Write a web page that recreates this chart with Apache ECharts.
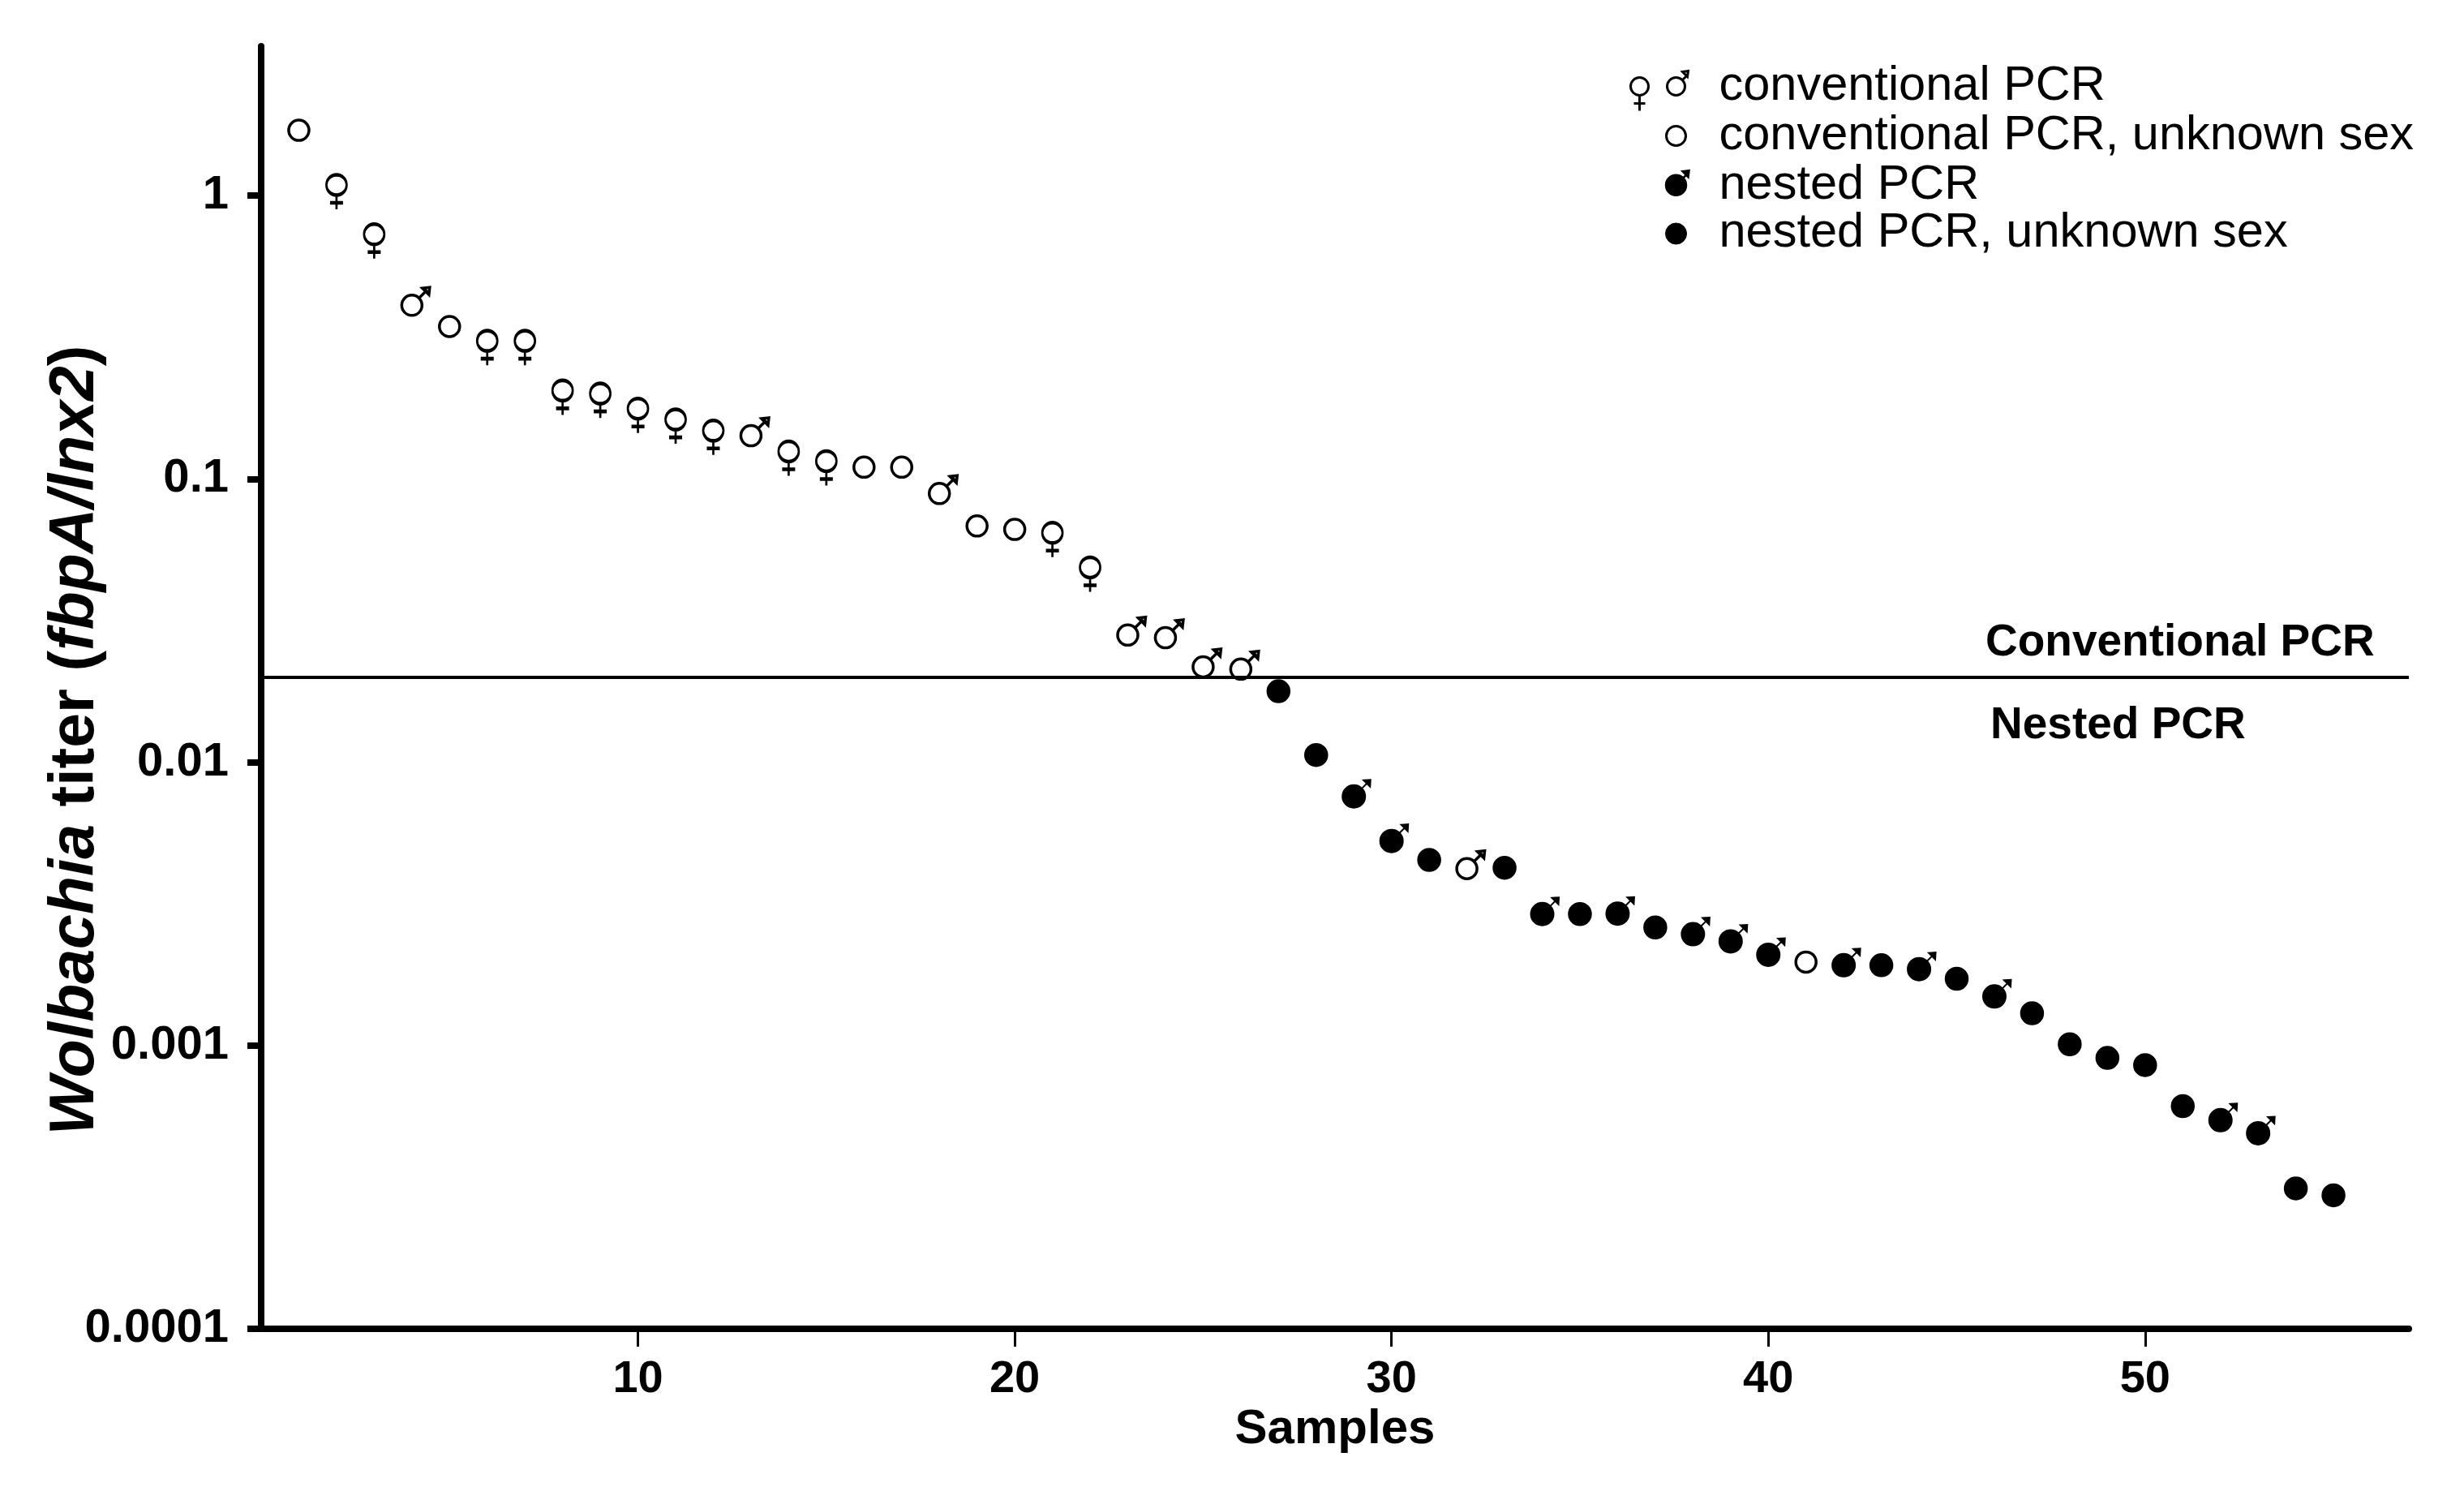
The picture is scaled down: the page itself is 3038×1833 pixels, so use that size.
<!DOCTYPE html>
<html>
<head>
<meta charset="utf-8">
<script src="https://cdn.jsdelivr.net/npm/echarts@6.0.0/dist/echarts.min.js"></script>
<style>
  html, body { margin: 0; padding: 0; background: #fff; }
  #main { width: 3038px; height: 1833px; }
</style>
</head>
<body>
<div id="main"></div>
<script>
  // samples, ranked by titer
  var samples = [1, 2, 3, 4, 5, 6, 7, 8, 9, 10, 11, 12, 13, 14, 15, 16, 17, 18, 19, 20,
                 21, 22, 23, 24, 25, 26, 27, 28, 29, 30, 31, 32, 33, 34, 35, 36, 37, 38, 39, 40,
                 41, 42, 43, 44, 45, 46, 47, 48, 49, 50, 51, 52, 53, 54, 55];
  // Wolbachia titer (fbpA/lnx2)
  var titer = [1.70, 1.09, 0.73, 0.41, 0.345, 0.307, 0.307, 0.205, 0.200, 0.177,
               0.162, 0.148, 0.142, 0.125, 0.1155, 0.110, 0.110, 0.0888, 0.0682, 0.0663,
               0.0645, 0.0487, 0.0281, 0.0275, 0.0217, 0.0213, 0.0178, 0.0106, 0.00757, 0.00527,
               0.00452, 0.00421, 0.00424, 0.00291, 0.00291, 0.00292, 0.00261, 0.00247, 0.00233, 0.00209,
               0.00197, 0.00192, 0.00192, 0.00186, 0.00172, 0.00149, 0.00130, 0.00101, 0.000904, 0.000853,
               0.000611, 0.000545, 0.000490, 0.000313, 0.000296];
  // C = conventional PCR, N = nested PCR
  var method = ['C','C','C','C','C','C','C','C','C','C','C','C','C','C','C','C','C','C','C','C',
                'C','C','C','C','C','C','N','N','N','N','N','C','N','N','N','N','N','N','N','N',
                'C','N','N','N','N','N','N','N','N','N','N','N','N','N','N'];
  // F = female, M = male, U = unknown
  var sex = ['U','F','F','M','U','F','F','F','F','F','F','F','M','F','F','U','U','M','U','U',
             'F','F','M','M','M','M','U','U','M','M','U','M','U','M','U','M','U','M','M','M',
             'U','M','U','M','U','M','U','U','U','U','U','M','M','U','U'];

  var cutoff = 0.0193;
  var zoneLabels = ['Conventional PCR', 'Nested PCR'];
  var yTicks = [0.0001, 0.001, 0.01, 0.1, 1];
  var yTickLabels = ['0.0001', '0.001', '0.01', '0.1', '1'];
  var xTicks = [10, 20, 30, 40, 50];
  var legendNames = ['conventional PCR', 'conventional PCR, unknown sex', 'nested PCR', 'nested PCR, unknown sex'];

  var FONT = 'Arial, "Liberation Sans", Helvetica, sans-serif';

  // symbol outlines (px units, circle centred on 0,0)
  var FEMALE = 'path://M-12.5 0A12.5 12.5 0 1 1 12.5 0A12.5 12.5 0 1 1 -12.5 0Z M0 12.5L0 30 M-8 22L8 22';
  var MALE = 'path://M-12.5 0A12.5 12.5 0 1 1 12.5 0A12.5 12.5 0 1 1 -12.5 0Z M8.8 -8.8L19 -19 M13 -21L22 -22L21 -13Z';
  var MALE_FILLED = 'path://M-14 0A14 14 0 1 1 14 0A14 14 0 1 1 -14 0Z M9.9 -9.9L18 -18 M12 -20L20.5 -20.5L20 -12Z';

  // legend icons, all in a 115 x 60 frame
  var ICON_CONV = 'path://M0 0M115 60' +
    'M11 30A11 11 0 1 1 33 30A11 11 0 1 1 11 30Z M22 41L22 60 M15 51L29 51' +
    'M56 30A11 11 0 1 1 78 30A11 11 0 1 1 56 30Z M74.8 22.2L80 17 M75 12L82 11L81 18Z';
  var ICON_CONV_U = 'path://M0 0M115 60M55 30A12 12 0 1 1 79 30A12 12 0 1 1 55 30Z';
  var ICON_NEST = 'path://M0 0M115 60M54.5 30A12.5 12.5 0 1 1 79.5 30A12.5 12.5 0 1 1 54.5 30Z M76 21L80 17 M75 13L83 12L82 20Z';
  var ICON_NEST_U = 'path://M0 0M115 60M54 30A13 13 0 1 1 80 30A13 13 0 1 1 54 30Z';

  function point(i) {
    var item = { value: [samples[i], titer[i]] };
    if (method[i] === 'C' && sex[i] === 'F') {
      item.symbol = FEMALE; item.symbolSize = [25, 42.5]; item.symbolOffset = [0, 8.75];
    } else if (method[i] === 'C' && sex[i] === 'M') {
      item.symbol = MALE; item.symbolSize = [34.5, 34.5]; item.symbolOffset = [4.75, -4.75];
    }
    return item;
  }

  function pick(m, known) {
    var out = [];
    for (var i = 0; i < samples.length; i++) {
      if (method[i] === m && (sex[i] !== 'U') === known) out.push(point(i));
    }
    return out;
  }

  var openStyle = { color: 'transparent', borderColor: '#000', borderWidth: 3.5, opacity: 1 };
  var fillStyle = { color: '#000', borderColor: '#000', borderWidth: 2, opacity: 1 };

  var myChart = echarts.init(document.getElementById('main'));
  var option = {
    animation: false,
    backgroundColor: '#fff',
    textStyle: { fontFamily: FONT, color: '#000' },
    grid: { left: 322, right: 68, top: 57, bottom: 195, outerBoundsMode: 'none' },
    legend: {
      orient: 'vertical',
      left: 1998,
      top: 75,
      padding: 0,
      itemWidth: 115,
      itemHeight: 60,
      itemGap: -2,
      selectedMode: false,
      textStyle: { fontSize: 59.5, lineHeight: 56, color: '#000', fontFamily: FONT },
      data: [
        { name: legendNames[0], icon: ICON_CONV, itemStyle: { color: 'transparent', borderColor: '#000', borderWidth: 3, opacity: 1 } },
        { name: legendNames[1], icon: ICON_CONV_U, itemStyle: { color: 'transparent', borderColor: '#000', borderWidth: 3, opacity: 1 } },
        { name: legendNames[2], icon: ICON_NEST, itemStyle: { color: '#000', borderColor: '#000', borderWidth: 2.5, opacity: 1 } },
        { name: legendNames[3], icon: ICON_NEST_U, itemStyle: { color: '#000', borderColor: '#000', borderWidth: 1, opacity: 1 } }
      ]
    },
    xAxis: {
      type: 'value',
      min: 0,
      max: 57,
      name: 'Samples',
      nameLocation: 'middle',
      nameGap: 94,
      nameMoveOverlap: false,
      nameTextStyle: { fontSize: 60, fontWeight: 'bold', color: '#000', fontFamily: FONT },
      axisLine: { show: true, lineStyle: { color: '#000', width: 8 } },
      axisTick: { show: true, length: 22, customValues: xTicks, lineStyle: { color: '#000', width: 3 } },
      axisLabel: { customValues: xTicks, margin: 35, fontSize: 56, fontWeight: 'bold', color: '#000', fontFamily: FONT },
      splitLine: { show: false }
    },
    yAxis: {
      type: 'log',
      logBase: 10,
      min: 0.0001,
      max: 3.365,
      name: '{i|Wolbachia} titer ({i|fbpA/lnx2})',
      nameLocation: 'middle',
      nameGap: 190,
      nameMoveOverlap: false,
      nameTextStyle: {
        fontSize: 77, fontWeight: 'bold', color: '#000', fontFamily: FONT,
        padding: [0, 130, 0, 0],
        rich: { i: { fontSize: 77, fontWeight: 'bold', fontStyle: 'italic', color: '#000', fontFamily: FONT } }
      },
      axisLine: { show: true, lineStyle: { color: '#000', width: 8 } },
      axisTick: { show: true, length: 17, customValues: yTicks, lineStyle: { color: '#000', width: 8 } },
      axisLabel: {
        customValues: yTicks, margin: 40, fontSize: 58, fontWeight: 'bold', color: '#000', fontFamily: FONT,
        formatter: function (v) {
          for (var k = 0; k < yTicks.length; k++) {
            if (Math.abs(Math.log10(v) - Math.log10(yTicks[k])) < 1e-6) return yTickLabels[k];
          }
          return '';
        }
      },
      splitLine: { show: false },
      minorTick: { show: false }
    },
    series: [
      {
        name: legendNames[0], type: 'scatter', data: pick('C', true),
        itemStyle: openStyle, emphasis: { disabled: true }
      },
      {
        name: legendNames[1], type: 'scatter', data: pick('C', false),
        symbol: 'circle', symbolSize: 25, itemStyle: openStyle, emphasis: { disabled: true }
      },
      {
        name: legendNames[2], type: 'scatter', data: pick('N', true),
        symbol: MALE_FILLED, symbolSize: [34.5, 34.5], symbolOffset: [3.25, -3.25],
        itemStyle: fillStyle, emphasis: { disabled: true }
      },
      {
        name: legendNames[3], type: 'scatter', data: pick('N', false),
        symbol: 'circle', symbolSize: 28, itemStyle: { color: '#000', borderColor: '#000', borderWidth: 1.5, opacity: 1 },
        emphasis: { disabled: true },
        markLine: {
          silent: true,
          symbol: ['none', 'none'],
          lineStyle: { color: '#000', width: 4, type: 'solid', opacity: 1 },
          emphasis: { disabled: true },
          data: [
            { yAxis: cutoff, label: { show: true, position: 'insideEndTop', formatter: zoneLabels[0], align: 'left',
              distance: [522, 14], fontSize: 55, fontWeight: 'bold', color: '#000', fontFamily: FONT } },
            { yAxis: cutoff, label: { show: true, position: 'insideEndBottom', formatter: zoneLabels[1], align: 'left',
              distance: [516, 33], fontSize: 55, fontWeight: 'bold', color: '#000', fontFamily: FONT } }
          ]
        }
      }
    ]
  };
  myChart.setOption(option);
</script>
</body>
</html>
